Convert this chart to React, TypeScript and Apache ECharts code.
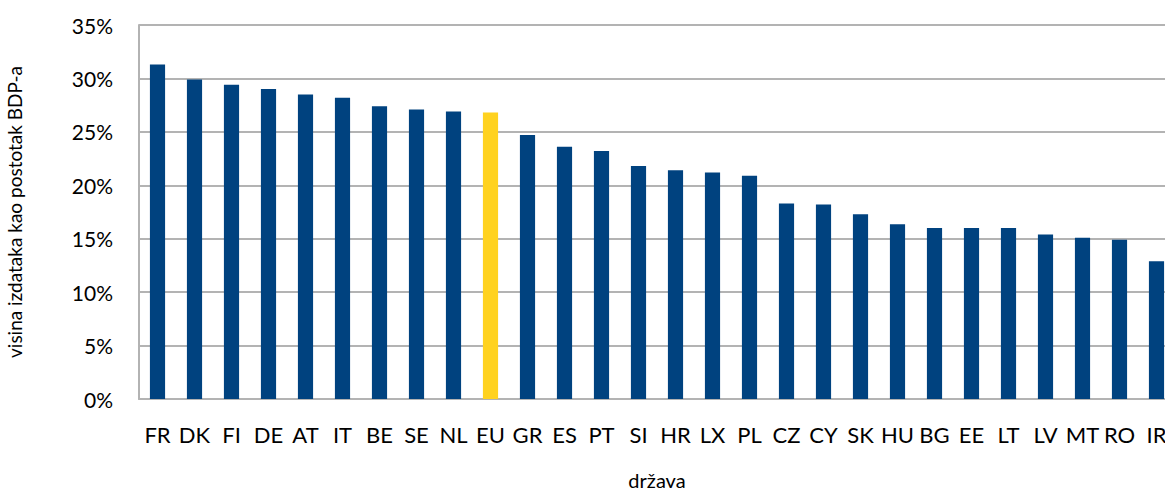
import React, { useEffect, useRef } from "react";
import * as echarts from "echarts";

const categories = ["FR", "DK", "FI", "DE", "AT", "IT", "BE", "SE", "NL", "EU", "GR", "ES", "PT", "SI", "HR", "LX", "PL", "CZ", "CY", "SK", "HU", "BG", "EE", "LT", "LV", "MT", "RO", "IR"];
const values = [31.3, 29.9, 29.4, 29.0, 28.5, 28.2, 27.4, 27.1, 26.9, 26.8, 24.7, 23.6, 23.2, 21.8, 21.4, 21.2, 20.9, 18.3, 18.2, 17.3, 16.35, 16.0, 16.0, 16.0, 15.4, 15.1, 14.9, 12.9];
const highlight = "EU";
const yTicks = { min: 0, max: 35, interval: 5 };
const yAxisTitle = "visina izdataka kao postotak BDP-a";
const xAxisTitle = "država";

const FONT = "Lato, 'Open Sans', sans-serif";

export default function App() {
  const ref = useRef<HTMLDivElement>(null);
  useEffect(() => {
    document.body.style.margin = "0";
    const chart = echarts.init(ref.current!, null, { renderer: "svg" });
    chart.setOption({
      animation: false,
      backgroundColor: "#ffffff",
      grid: { left: 139, top: 25, width: 1036, height: 374, containLabel: false, outerBoundsMode: "none" },
      xAxis: {
        type: "category",
        data: categories,
        name: xAxisTitle,
        nameLocation: "middle",
        nameGap: 71,
        nameTextStyle: { color: "#000", fontSize: 20, fontFamily: FONT },
        axisLine: { show: true, lineStyle: { color: "#b3b3b3", width: 2 } },
        axisTick: { show: false },
        axisLabel: { interval: 0, color: "#000", fontSize: 22, fontFamily: FONT, margin: 24 },
      },
      yAxis: {
        type: "value",
        min: yTicks.min,
        max: yTicks.max,
        interval: yTicks.interval,
        name: yAxisTitle,
        nameLocation: "middle",
        nameRotate: 90,
        nameGap: 115,
        nameTextStyle: { color: "#000", fontSize: 19, fontFamily: FONT },
        axisLine: { show: true, lineStyle: { color: "#b3b3b3", width: 2 } },
        axisTick: { show: false },
        axisLabel: { color: "#000", fontSize: 21, fontFamily: FONT, margin: 26, formatter: (v: number) => v + "%" },
        splitLine: { show: true, lineStyle: { color: "#b3b3b3", width: 2 } },
      },
      series: [
        {
          type: "bar",
          barWidth: "41%",
          data: values.map((v, i) => ({
            value: v,
            itemStyle: { color: categories[i] === highlight ? "#FFD21F" : "#00427F" },
          })),
        },
      ],
    });
    return () => chart.dispose();
  }, []);
  return <div ref={ref} style={{ position: "fixed", left: 0, top: 0, width: 1165, height: 494 }} />;
}
